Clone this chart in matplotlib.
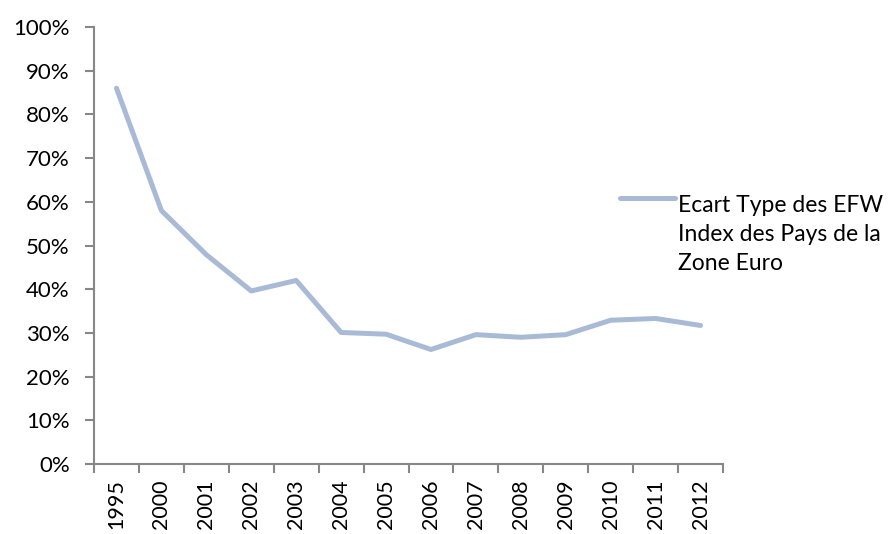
import matplotlib
matplotlib.use("Agg")
import matplotlib.pyplot as plt
from matplotlib.lines import Line2D
from matplotlib.ticker import PercentFormatter, FixedLocator
import numpy as np

# Données
annees = ['1995', '2000', '2001', '2002', '2003', '2004', '2005',
          '2006', '2007', '2008', '2009', '2010', '2011', '2012']
ecart_type = [0.860, 0.580, 0.479, 0.396, 0.420, 0.301, 0.297,
              0.262, 0.296, 0.290, 0.296, 0.329, 0.333, 0.317]
label_serie = 'Ecart Type des EFW\nIndex des Pays de la\nZone Euro'

plt.rcParams.update({
    "font.family": ["Lato", "DejaVu Sans"],
    "font.size": 16,
})

couleur = '#A9BAD6'
gris = '#878787'
W, H = 896, 534

fig = plt.figure(figsize=(W / 100, H / 100), dpi=100)
ax = fig.add_axes([94 / W, 70 / H, 629 / W, 437 / H])

x = np.arange(len(annees))
ax.plot(x, ecart_type, color=couleur, linewidth=3.6, solid_capstyle='round',
        solid_joinstyle='round', label=label_serie)

ax.set_xlim(-0.5, len(annees) - 0.5)
ax.set_ylim(0, 1)
ax.yaxis.set_major_locator(FixedLocator(np.arange(0, 1.01, 0.1)))
ax.yaxis.set_major_formatter(PercentFormatter(1.0, decimals=0))

ax.set_xticks(x)
ax.set_xticklabels(annees, rotation=90, fontsize=15.5)
ax.xaxis.set_minor_locator(FixedLocator(np.arange(-0.5, len(annees), 1.0)))
ax.tick_params(axis='x', which='major', length=0, pad=11)
ax.tick_params(axis='x', which='minor', length=6.5, width=1.5, color=gris, direction='out')
ax.tick_params(axis='y', length=6.5, width=1.5, color=gris, direction='out', pad=11)

for s in ['top', 'right']:
    ax.spines[s].set_visible(False)
for s in ['left', 'bottom']:
    ax.spines[s].set_color(gris)
    ax.spines[s].set_linewidth(1.5)

# Légende (trait aligné sur la première ligne du texte, comme dans Excel)
fig.add_artist(Line2D([620 / W, 675 / W], [1 - 198 / H, 1 - 198 / H],
                      transform=fig.transFigure, color=couleur, linewidth=3.6,
                      solid_capstyle='round'))
fig.text(678 / W, 1 - 270 / H, label_serie, ha='left', va='baseline',
         fontsize=16.5, linespacing=1.48)

fig.savefig('out.png', dpi=100)
